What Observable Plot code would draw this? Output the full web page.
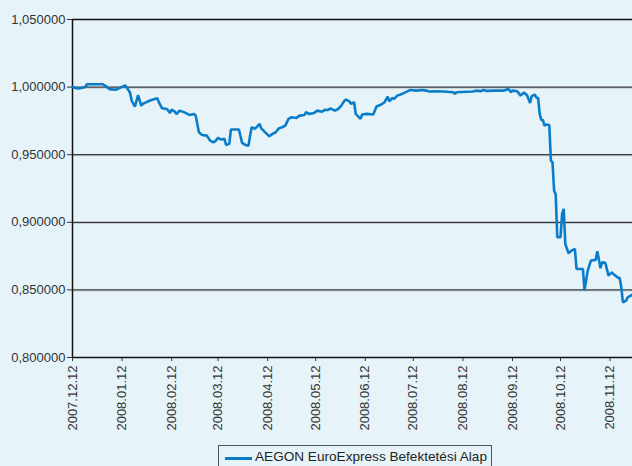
<!DOCTYPE html>
<html>
<head>
<meta charset="utf-8">
<script src="https://cdn.jsdelivr.net/npm/d3@7"></script>
<script src="https://cdn.jsdelivr.net/npm/@observablehq/plot@0.6"></script>
<style>
  html, body { margin: 0; padding: 0; background: #e6f4fa; width: 632px; height: 466px; overflow: hidden; }
  body { position: relative; font-family: "Liberation Sans", Arial, sans-serif; color: #333; }
  #legend { position: absolute; left: 218px; top: 445px; width: 274px; height: 30px; border: 1px solid #555; box-sizing: border-box; }
  #legend .sw { position: absolute; left: 6px; top: 11px; width: 27px; height: 3px; background: #0b7dc8; }
  #legend .lt { position: absolute; left: 36px; top: 3px; font-size: 13.6px; white-space: nowrap; color: #222; }
</style>
</head>
<body>
<div id="chart"></div>
<div id="legend"><div class="sw"></div><div class="lt" id="legendText"></div></div>
<script>
const seriesName = "AEGON EuroExpress Befektetési Alap";

const dates = [
  "2007-12-12","2007-12-15","2007-12-17","2007-12-20","2007-12-21","2007-12-31",
  "2008-01-02","2008-01-04","2008-01-08","2008-01-10","2008-01-14","2008-01-15",
  "2008-01-17","2008-01-18","2008-01-20","2008-01-22","2008-01-24","2008-01-25",
  "2008-01-27","2008-01-29","2008-01-31","2008-02-03","2008-02-04","2008-02-06",
  "2008-02-09","2008-02-11","2008-02-12","2008-02-14","2008-02-15","2008-02-17",
  "2008-02-20","2008-02-23","2008-02-26","2008-02-27","2008-02-29","2008-03-02",
  "2008-03-05","2008-03-07","2008-03-09","2008-03-10","2008-03-12","2008-03-14",
  "2008-03-16","2008-03-17","2008-03-19","2008-03-20","2008-03-25","2008-03-27",
  "2008-03-29","2008-03-31","2008-04-01","2008-04-02","2008-04-04","2008-04-07",
  "2008-04-08","2008-04-10","2008-04-13","2008-04-15","2008-04-17","2008-04-19",
  "2008-04-21","2008-04-23","2008-04-25","2008-04-27","2008-04-30","2008-05-02",
  "2008-05-05","2008-05-06","2008-05-08","2008-05-11","2008-05-13","2008-05-16",
  "2008-05-18","2008-05-20","2008-05-21","2008-05-24","2008-05-26","2008-05-28",
  "2008-05-30","2008-05-31","2008-06-02","2008-06-03","2008-06-05","2008-06-06",
  "2008-06-09","2008-06-10","2008-06-13","2008-06-17","2008-06-19","2008-06-22",
  "2008-06-24","2008-06-26","2008-06-27","2008-06-29","2008-06-30","2008-07-02",
  "2008-07-04","2008-07-05","2008-07-08","2008-07-10","2008-07-14","2008-07-18",
  "2008-07-20","2008-07-22","2008-07-27","2008-07-31","2008-08-06","2008-08-07",
  "2008-08-08","2008-08-18","2008-08-21","2008-08-23","2008-08-25","2008-08-27",
  "2008-08-31","2008-09-06","2008-09-08","2008-09-09","2008-09-10","2008-09-11",
  "2008-09-12","2008-09-15","2008-09-17","2008-09-19","2008-09-21","2008-09-23",
  "2008-09-24","2008-09-26","2008-09-27","2008-09-28","2008-09-29","2008-09-30",
  "2008-10-01","2008-10-02","2008-10-03","2008-10-05","2008-10-06","2008-10-07",
  "2008-10-08","2008-10-09","2008-10-10","2008-10-12","2008-10-13","2008-10-14",
  "2008-10-15","2008-10-17","2008-10-19","2008-10-21","2008-10-22","2008-10-26",
  "2008-10-27","2008-10-28","2008-10-29","2008-10-31","2008-11-03","2008-11-04",
  "2008-11-06","2008-11-07","2008-11-09","2008-11-11","2008-11-13","2008-11-14",
  "2008-11-17","2008-11-18","2008-11-19","2008-11-20","2008-11-22","2008-11-23",
  "2008-11-26"
];

const values = [
  1.0000,0.9990,0.9992,1.0000,1.0021,1.0021,
  1.0006,0.9985,0.9980,0.9991,1.0013,0.9995,
  0.9958,0.9899,0.9855,0.9941,0.9862,0.9877,
  0.9887,0.9899,0.9907,0.9917,0.9887,0.9843,
  0.9838,0.9809,0.9833,0.9818,0.9801,0.9826,
  0.9813,0.9794,0.9801,0.9789,0.9666,0.9646,
  0.9641,0.9604,0.9592,0.9597,0.9624,0.9612,
  0.9617,0.9572,0.9580,0.9686,0.9686,0.9587,
  0.9572,0.9567,0.9641,0.9703,0.9691,0.9728,
  0.9695,0.9671,0.9636,0.9654,0.9666,0.9695,
  0.9703,0.9715,0.9765,0.9777,0.9772,0.9789,
  0.9794,0.9814,0.9801,0.9809,0.9826,0.9818,
  0.9833,0.9831,0.9843,0.9826,0.9838,0.9863,
  0.9900,0.9908,0.9895,0.9876,0.9888,0.9802,
  0.9765,0.9797,0.9802,0.9797,0.9856,0.9871,
  0.9888,0.9930,0.9895,0.9920,0.9913,0.9937,
  0.9945,0.9950,0.9967,0.9979,0.9974,0.9979,
  0.9974,0.9967,0.9969,0.9967,0.9962,0.9950,
  0.9962,0.9967,0.9974,0.9969,0.9979,0.9972,
  0.9974,0.9974,0.9979,0.9986,0.9979,0.9962,
  0.9974,0.9969,0.9937,0.9959,0.9941,0.9882,
  0.9933,0.9945,0.9919,0.9922,0.9802,0.9757,
  0.9757,0.9715,0.9723,0.9720,0.9456,0.9444,
  0.9235,0.9205,0.8889,0.8889,0.9062,0.9099,
  0.8840,0.8771,0.8791,0.8803,0.8655,0.8655,
  0.8495,0.8569,0.8643,0.8717,0.8722,0.8786,
  0.8660,0.8704,0.8700,0.8606,0.8630,0.8618,
  0.8589,0.8589,0.8519,0.8408,0.8421,0.8445,
  0.8465
];

const xTickLabels = ["2007.12.12","2008.01.12","2008.02.12","2008.03.12","2008.04.12","2008.05.12",
  "2008.06.12","2008.07.12","2008.08.12","2008.09.12","2008.10.12","2008.11.12"];
const yTicks = [0.80, 0.85, 0.90, 0.95, 1.00, 1.05];
const gridValues = [0.85, 0.90, 0.95, 1.00];
const xDomain = ["2007-12-12", "2008-11-26"];

const parseIso = d3.utcParse("%Y-%m-%d");
const parseTick = d3.utcParse("%Y.%m.%d");
const fmtTick = d3.utcFormat("%Y.%m.%d");
const data = dates.map((d, i) => ({date: parseIso(d), value: values[i]}));
const xTicks = xTickLabels.map(parseTick);
const yFmt = v => d3.format(".6f")(v).replace(".", ",");

const chart = Plot.plot({
  width: 632,
  height: 440,
  marginLeft: 72,
  marginRight: 0,
  marginTop: 19,
  marginBottom: 83,
  style: {background: "transparent", fontFamily: "'Liberation Sans', Arial, sans-serif", fontSize: "13px", color: "#333"},
  x: {type: "utc", domain: xDomain.map(parseIso), ticks: xTicks, tickFormat: fmtTick, tickRotate: -90, tickSize: 4, tickPadding: 4, label: null},
  y: {domain: [0.8, 1.05], ticks: yTicks, tickFormat: yFmt, tickSize: 5, tickPadding: 2, label: null},
  marks: [
    Plot.ruleY(gridValues, {stroke: "#b8c4c8", strokeWidth: 1, dy: 1}),
    Plot.ruleY(gridValues, {stroke: "#3a3a3a", strokeWidth: 1.2}),
    Plot.ruleY([1.05], {stroke: "#111", strokeWidth: 1.5}),
    Plot.ruleY([0.8], {stroke: "#111", strokeWidth: 1.5}),
    Plot.ruleX([parseIso(xDomain[0])], {stroke: "#111", strokeWidth: 1.5}),
    Plot.line(data, {x: "date", y: "value", stroke: "#0b7dc8", strokeWidth: 2.6, strokeLinejoin: "miter", curve: "linear"})
  ]
});
document.getElementById("chart").appendChild(chart);
document.getElementById("legendText").textContent = seriesName;
</script>
</body>
</html>
